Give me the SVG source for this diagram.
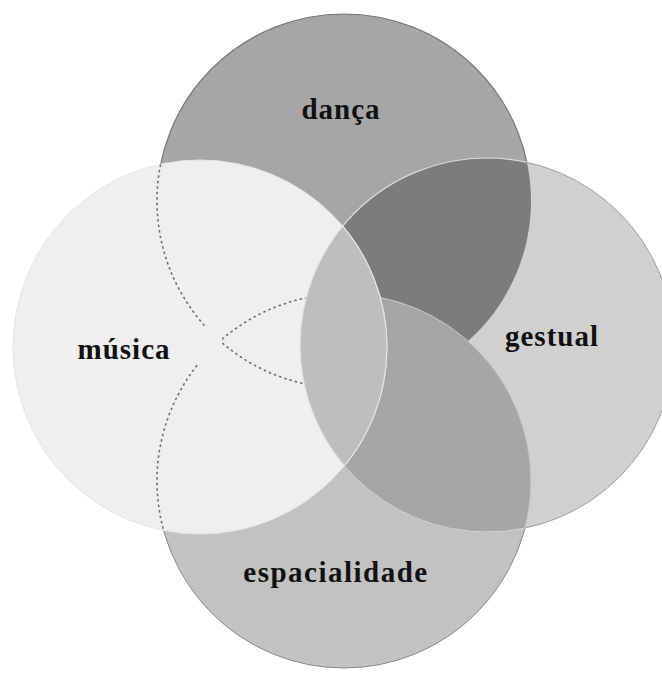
<svg xmlns="http://www.w3.org/2000/svg" width="662" height="673" viewBox="0 0 662 673">
  <style>
    .lbl { font-family: "Liberation Serif", "Times New Roman", serif; font-weight: bold; font-size: 29px; fill: #111; text-anchor: middle; letter-spacing: 1px; }
    .hidden-edge { fill: none; stroke: #6e6e6e; stroke-width: 1.6; stroke-dasharray: 2.5 3; }
  </style>
  <defs>
    <clipPath id="cD"><circle cx="344" cy="201" r="187"/></clipPath>
    <clipPath id="cE"><circle cx="344" cy="481" r="187"/></clipPath>
    <clipPath id="cG"><circle cx="487" cy="345" r="187"/></clipPath>
    <clipPath id="cM"><circle cx="200" cy="347" r="187"/></clipPath>
    <mask id="gap" maskUnits="userSpaceOnUse" x="0" y="0" width="662" height="673">
      <rect width="662" height="673" fill="#fff"/>
      <rect x="197" y="327" width="25" height="38" fill="#000"/>
    </mask>
  </defs>
  <rect width="662" height="673" fill="#ffffff"/>

  <!-- base sets -->
  <g id="sets">
    <circle id="set-danca" cx="344" cy="201" r="187" fill="#a6a6a6" stroke="#7a7a7a" stroke-width="1.2"/>
    <circle id="set-espacialidade" cx="344" cy="481" r="187" fill="#c2c2c2" stroke="#8a8a8a" stroke-width="1"/>
    <circle id="set-gestual" cx="487" cy="345" r="187" fill="#d0d0d0" stroke="#a0a0a0" stroke-width="1"/>
  </g>

  <!-- overlaps outside música -->
  <g id="overlaps">
    <circle cx="487" cy="345" r="187" fill="#7c7c7c" stroke="#dcdcdc" stroke-width="1.2" clip-path="url(#cD)"/>
    <circle cx="487" cy="345" r="187" fill="#a6a6a6" stroke="#d8d8d8" stroke-width="1" clip-path="url(#cE)"/>
    <circle cx="344" cy="481" r="187" fill="none" stroke="#c8c8c8" stroke-width="1" clip-path="url(#cG)"/>
  </g>

  <!-- música on top -->
  <g id="set-musica">
    <circle cx="200" cy="347" r="187" fill="#efefef" stroke="#e6e6e6" stroke-width="1"/>
  </g>

  <!-- hidden edges shown dashed inside música -->
  <g id="connectors" clip-path="url(#cM)">
    <g mask="url(#gap)">
      <circle class="hidden-edge" cx="344" cy="201" r="187"/>
      <circle class="hidden-edge" cx="344" cy="481" r="187"/>
    </g>
  </g>

  <!-- música ∩ gestual lens -->
  <g id="lens">
    <circle cx="487" cy="345" r="187" fill="#bebebe" stroke="#e4e4e4" stroke-width="1.2" clip-path="url(#cM)"/>
    <circle cx="200" cy="347" r="187" fill="none" stroke="#e4e4e4" stroke-width="1.2" clip-path="url(#cG)"/>
  </g>

  <!-- labels -->
  <g id="danca"><text class="lbl" x="341" y="119">dança</text></g>
  <g id="musica"><text class="lbl" x="124" y="359">música</text></g>
  <g id="gestual"><text class="lbl" x="552" y="346">gestual</text></g>
  <g id="espacialidade"><text class="lbl" x="336" y="582" style="letter-spacing:1.5px">espacialidade</text></g>
</svg>
